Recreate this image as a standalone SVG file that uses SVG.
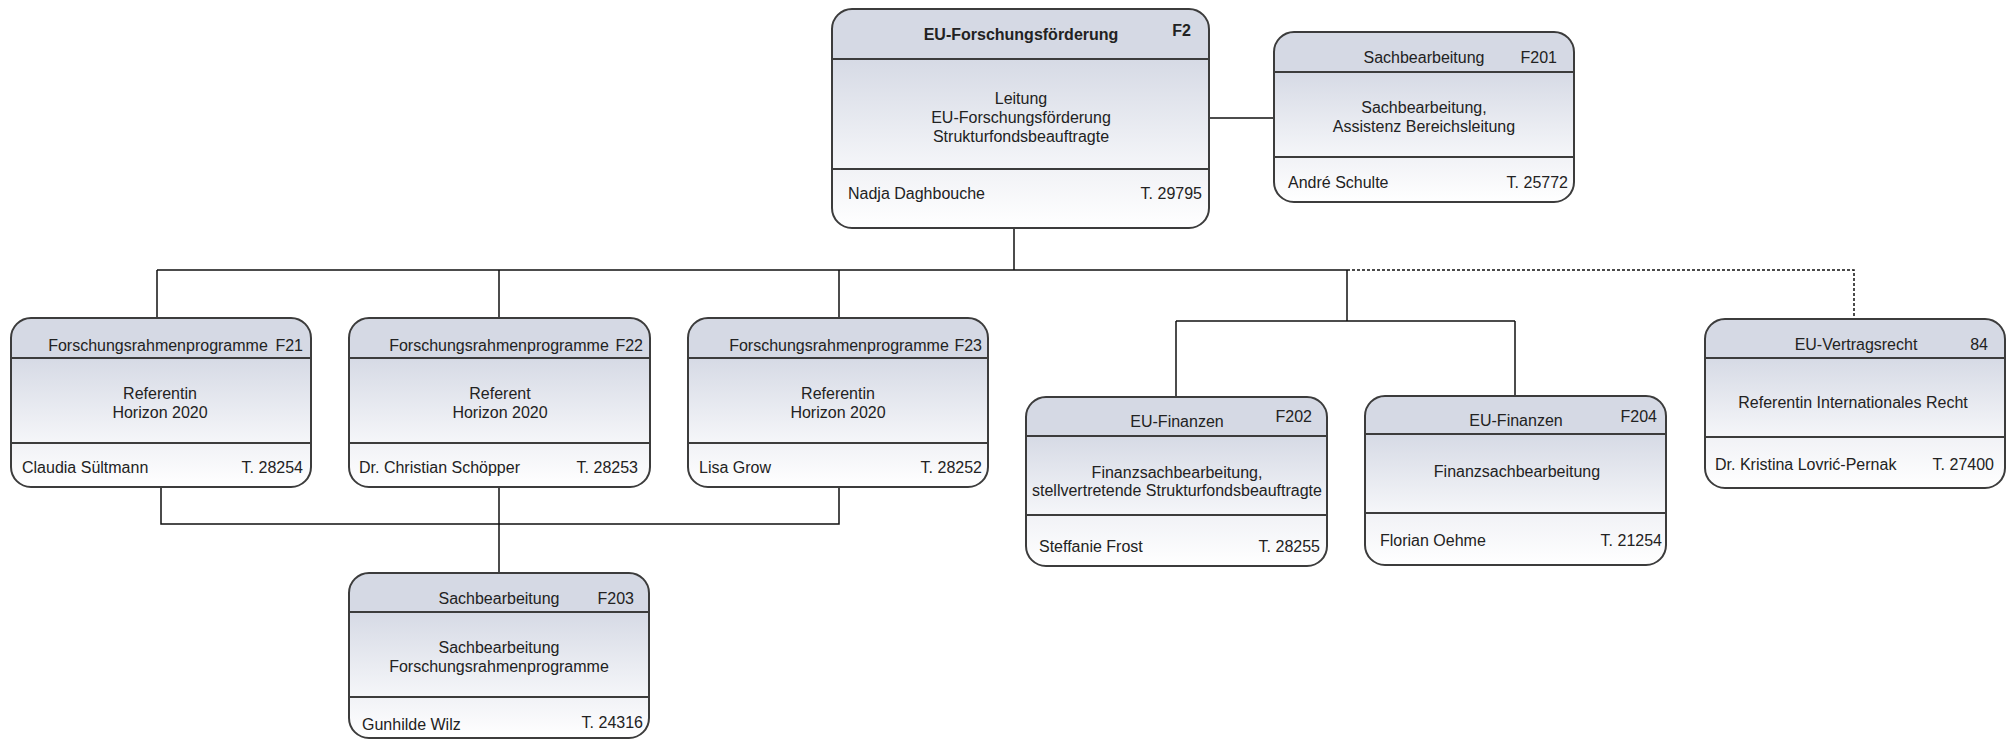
<svg xmlns="http://www.w3.org/2000/svg" width="2016" height="740" viewBox="0 0 2016 740">
<defs>
<linearGradient id="gBody" x1="0" y1="0" x2="0" y2="1"><stop offset="0" stop-color="#d6dae5"/><stop offset="1" stop-color="#f5f6f9"/></linearGradient>
<linearGradient id="gFoot" x1="0" y1="0" x2="0" y2="1"><stop offset="0" stop-color="#f1f2f6"/><stop offset="1" stop-color="#ffffff"/></linearGradient>
<style>
.hd{fill:#d5d9e4}
.bd{fill:url(#gBody)}
.ft{fill:url(#gFoot)}
.ol{fill:none;stroke:#3c3c3c;stroke-width:2}
.dv{stroke:#3c3c3c;stroke-width:2}
text{font-family:"Liberation Sans",Arial,sans-serif;font-size:16px;fill:#222}
.c{text-anchor:middle}
.e{text-anchor:end}
.b{font-weight:bold}
.cn{fill:none;stroke:#111;stroke-width:1.5}
.dot{fill:none;stroke:#111;stroke-width:1.5;stroke-dasharray:3 2}
</style>
</defs>
<g id="connectors">
<path class="cn" d="M1209,118 H1274"/>
<path class="cn" d="M1014,228 V270"/>
<path class="cn" d="M157,270 H1347"/>
<path class="cn" d="M157,270 V318"/>
<path class="cn" d="M499,270 V318"/>
<path class="cn" d="M839,270 V318"/>
<path class="cn" d="M1347,270 V321"/>
<path class="cn" d="M1176,321 H1515"/>
<path class="cn" d="M1176,321 V397"/>
<path class="cn" d="M1515,321 V396"/>
<path class="dot" d="M1347,270 H1854 V319"/>
<path class="cn" d="M161,487 V524 H839 V487"/>
<path class="cn" d="M499,487 V573"/>
</g>
<g id="F2">
<path class="hd" d="M832,59 V29 A20,20 0 0 1 852,9 H1189 A20,20 0 0 1 1209,29 V59 Z"/>
<rect class="bd" x="832" y="59" width="377" height="110"/>
<path class="ft" d="M832,169 H1209 V208 A20,20 0 0 1 1189,228 H852 A20,20 0 0 1 832,208 Z"/>
<line class="dv" x1="832" y1="59" x2="1209" y2="59"/>
<line class="dv" x1="832" y1="169" x2="1209" y2="169"/>
<rect class="ol" x="832" y="9" width="377" height="219" rx="20"/>
<text class="c b" x="1021" y="40">EU-Forschungsförderung</text>
<text class="e b" x="1191" y="36">F2</text>
<text class="c" x="1021" y="104">Leitung</text>
<text class="c" x="1021" y="123">EU-Forschungsförderung</text>
<text class="c" x="1021" y="142">Strukturfondsbeauftragte</text>
<text x="848" y="199">Nadja Daghbouche</text>
<text class="e" x="1202" y="199">T. 29795</text>
</g>
<g id="F201">
<path class="hd" d="M1274,72 V52 A20,20 0 0 1 1294,32 H1554 A20,20 0 0 1 1574,52 V72 Z"/>
<rect class="bd" x="1274" y="72" width="300" height="85"/>
<path class="ft" d="M1274,157 H1574 V182 A20,20 0 0 1 1554,202 H1294 A20,20 0 0 1 1274,182 Z"/>
<line class="dv" x1="1274" y1="72" x2="1574" y2="72"/>
<line class="dv" x1="1274" y1="157" x2="1574" y2="157"/>
<rect class="ol" x="1274" y="32" width="300" height="170" rx="20"/>
<text class="c" x="1424" y="63">Sachbearbeitung</text>
<text class="e" x="1557" y="63">F201</text>
<text class="c" x="1424" y="113">Sachbearbeitung,</text>
<text class="c" x="1424" y="132">Assistenz Bereichsleitung</text>
<text x="1288" y="188">André Schulte</text>
<text class="e" x="1568" y="188">T. 25772</text>
</g>
<g id="F21">
<path class="hd" d="M11,358 V338 A20,20 0 0 1 31,318 H291 A20,20 0 0 1 311,338 V358 Z"/>
<rect class="bd" x="11" y="358" width="300" height="85"/>
<path class="ft" d="M11,443 H311 V467 A20,20 0 0 1 291,487 H31 A20,20 0 0 1 11,467 Z"/>
<line class="dv" x1="11" y1="358" x2="311" y2="358"/>
<line class="dv" x1="11" y1="443" x2="311" y2="443"/>
<rect class="ol" x="11" y="318" width="300" height="169" rx="20"/>
<text class="c" x="158" y="351">Forschungsrahmenprogramme</text>
<text class="e" x="303" y="351">F21</text>
<text class="c" x="160" y="399">Referentin</text>
<text class="c" x="160" y="418">Horizon 2020</text>
<text x="22" y="473">Claudia Sültmann</text>
<text class="e" x="303" y="473">T. 28254</text>
</g>
<g id="F22">
<path class="hd" d="M349,358 V338 A20,20 0 0 1 369,318 H630 A20,20 0 0 1 650,338 V358 Z"/>
<rect class="bd" x="349" y="358" width="301" height="85"/>
<path class="ft" d="M349,443 H650 V467 A20,20 0 0 1 630,487 H369 A20,20 0 0 1 349,467 Z"/>
<line class="dv" x1="349" y1="358" x2="650" y2="358"/>
<line class="dv" x1="349" y1="443" x2="650" y2="443"/>
<rect class="ol" x="349" y="318" width="301" height="169" rx="20"/>
<text class="c" x="499" y="351">Forschungsrahmenprogramme</text>
<text class="e" x="643" y="351">F22</text>
<text class="c" x="500" y="399">Referent</text>
<text class="c" x="500" y="418">Horizon 2020</text>
<text x="359" y="473">Dr. Christian Schöpper</text>
<text class="e" x="638" y="473">T. 28253</text>
</g>
<g id="F23">
<path class="hd" d="M688,358 V338 A20,20 0 0 1 708,318 H968 A20,20 0 0 1 988,338 V358 Z"/>
<rect class="bd" x="688" y="358" width="300" height="85"/>
<path class="ft" d="M688,443 H988 V467 A20,20 0 0 1 968,487 H708 A20,20 0 0 1 688,467 Z"/>
<line class="dv" x1="688" y1="358" x2="988" y2="358"/>
<line class="dv" x1="688" y1="443" x2="988" y2="443"/>
<rect class="ol" x="688" y="318" width="300" height="169" rx="20"/>
<text class="c" x="839" y="351">Forschungsrahmenprogramme</text>
<text class="e" x="982" y="351">F23</text>
<text class="c" x="838" y="399">Referentin</text>
<text class="c" x="838" y="418">Horizon 2020</text>
<text x="699" y="473">Lisa Grow</text>
<text class="e" x="982" y="473">T. 28252</text>
</g>
<g id="F203">
<path class="hd" d="M349,612 V593 A20,20 0 0 1 369,573 H629 A20,20 0 0 1 649,593 V612 Z"/>
<rect class="bd" x="349" y="612" width="300" height="85"/>
<path class="ft" d="M349,697 H649 V718 A20,20 0 0 1 629,738 H369 A20,20 0 0 1 349,718 Z"/>
<line class="dv" x1="349" y1="612" x2="649" y2="612"/>
<line class="dv" x1="349" y1="697" x2="649" y2="697"/>
<rect class="ol" x="349" y="573" width="300" height="165" rx="20"/>
<text class="c" x="499" y="604">Sachbearbeitung</text>
<text class="e" x="634" y="604">F203</text>
<text class="c" x="499" y="653">Sachbearbeitung</text>
<text class="c" x="499" y="672">Forschungsrahmenprogramme</text>
<text x="362" y="730">Gunhilde Wilz</text>
<text class="e" x="643" y="728">T. 24316</text>
</g>
<g id="F202">
<path class="hd" d="M1026,436 V417 A20,20 0 0 1 1046,397 H1307 A20,20 0 0 1 1327,417 V436 Z"/>
<rect class="bd" x="1026" y="436" width="301" height="79"/>
<path class="ft" d="M1026,515 H1327 V546 A20,20 0 0 1 1307,566 H1046 A20,20 0 0 1 1026,546 Z"/>
<line class="dv" x1="1026" y1="436" x2="1327" y2="436"/>
<line class="dv" x1="1026" y1="515" x2="1327" y2="515"/>
<rect class="ol" x="1026" y="397" width="301" height="169" rx="20"/>
<text class="c" x="1177" y="427">EU-Finanzen</text>
<text class="e" x="1312" y="422">F202</text>
<text class="c" x="1177" y="478">Finanzsachbearbeitung,</text>
<text class="c" x="1177" y="496">stellvertretende Strukturfondsbeauftragte</text>
<text x="1039" y="552">Steffanie Frost</text>
<text class="e" x="1320" y="552">T. 28255</text>
</g>
<g id="F204">
<path class="hd" d="M1365,434 V416 A20,20 0 0 1 1385,396 H1646 A20,20 0 0 1 1666,416 V434 Z"/>
<rect class="bd" x="1365" y="434" width="301" height="79"/>
<path class="ft" d="M1365,513 H1666 V545 A20,20 0 0 1 1646,565 H1385 A20,20 0 0 1 1365,545 Z"/>
<line class="dv" x1="1365" y1="434" x2="1666" y2="434"/>
<line class="dv" x1="1365" y1="513" x2="1666" y2="513"/>
<rect class="ol" x="1365" y="396" width="301" height="169" rx="20"/>
<text class="c" x="1516" y="426">EU-Finanzen</text>
<text class="e" x="1657" y="422">F204</text>
<text class="c" x="1517" y="477">Finanzsachbearbeitung</text>
<text x="1380" y="546">Florian Oehme</text>
<text class="e" x="1662" y="546">T. 21254</text>
</g>
<g id="N84">
<path class="hd" d="M1705,358 V339 A20,20 0 0 1 1725,319 H1985 A20,20 0 0 1 2005,339 V358 Z"/>
<rect class="bd" x="1705" y="358" width="300" height="79"/>
<path class="ft" d="M1705,437 H2005 V468 A20,20 0 0 1 1985,488 H1725 A20,20 0 0 1 1705,468 Z"/>
<line class="dv" x1="1705" y1="358" x2="2005" y2="358"/>
<line class="dv" x1="1705" y1="437" x2="2005" y2="437"/>
<rect class="ol" x="1705" y="319" width="300" height="169" rx="20"/>
<text class="c" x="1856" y="350">EU-Vertragsrecht</text>
<text class="e" x="1988" y="350">84</text>
<text class="c" x="1853" y="408">Referentin Internationales Recht</text>
<text x="1715" y="470">Dr. Kristina Lovrić-Pernak</text>
<text class="e" x="1994" y="470">T. 27400</text>
</g>
</svg>
